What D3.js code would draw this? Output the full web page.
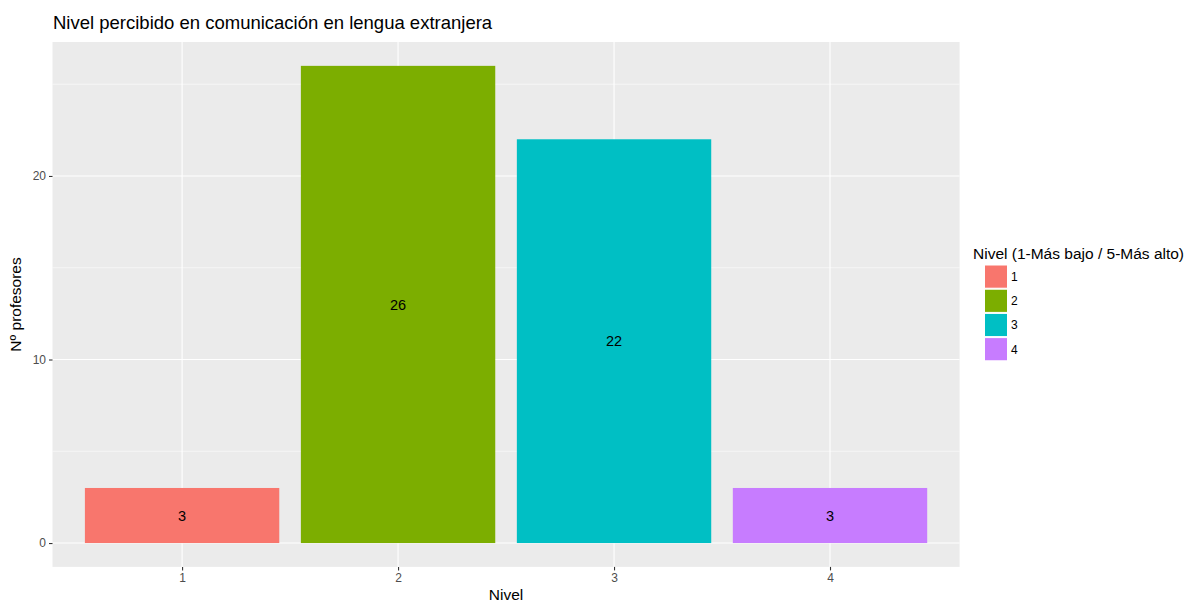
<!DOCTYPE html>
<html><head><meta charset="utf-8">
<script src="https://cdn.jsdelivr.net/npm/d3@7"></script>
<style>body{margin:0;background:#fff;} text{font-family:"Liberation Sans",Arial,sans-serif;}</style>
</head><body>
<svg id="c" width="1191" height="603"></svg>
<script>
const categories = ["1","2","3","4"];
const values = [3, 26, 22, 3];
const colors = ["#F8766D","#7CAE00","#00BFC4","#C77CFF"];
const yTicks = [0, 10, 20];
const yMinor = [5, 15, 25];

(function(){
const svg = d3.select("#c");
const pL = 52.5, pR = 959.6, pT = 42, pB = 566.9;

const x = d3.scaleLinear().domain([0.4, 4.6]).range([pL, pR]);
const y = d3.scaleLinear().domain([-1.3, 27.3]).range([pB, pT]);

svg.append("rect").attr("x", pL).attr("y", pT).attr("width", pR-pL).attr("height", pB-pT).attr("fill", "#EBEBEB");

// minor grid
svg.append("g").selectAll("line").data(yMinor).join("line")
  .attr("x1", pL).attr("x2", pR).attr("y1", d=>y(d)).attr("y2", d=>y(d))
  .attr("stroke", "#fff").attr("stroke-width", 0.55);
// major grid
svg.append("g").selectAll("line").data(yTicks).join("line")
  .attr("x1", pL).attr("x2", pR).attr("y1", d=>y(d)).attr("y2", d=>y(d))
  .attr("stroke", "#fff").attr("stroke-width", 1.1);
svg.append("g").selectAll("line").data(categories).join("line")
  .attr("y1", pT).attr("y2", pB).attr("x1", (d,i)=>x(i+1)).attr("x2", (d,i)=>x(i+1))
  .attr("stroke", "#fff").attr("stroke-width", 1.1);

// bars
const bw = 0.9;
svg.append("g").selectAll("rect").data(values).join("rect")
  .attr("x", (d,i)=>x(i+1-bw/2)).attr("width", (d,i)=>x(i+1+bw/2)-x(i+1-bw/2))
  .attr("y", d=>y(d)).attr("height", d=>y(0)-y(d))
  .attr("fill", (d,i)=>colors[i]);

// labels
svg.append("g").selectAll("text").data(values).join("text")
  .attr("x", (d,i)=>x(i+1)).attr("y", d=>y(d/2)).attr("dy", "0.36em")
  .attr("text-anchor", "middle").attr("font-size", 14.5).attr("fill", "#000")
  .text(d=>d);

// y axis
const yAxis = d3.axisLeft(y).tickValues(yTicks).tickSize(3.5).tickPadding(3);
const gy = svg.append("g").attr("transform", `translate(${pL},0)`).call(yAxis);
gy.select(".domain").remove();
gy.selectAll("line").attr("stroke", "#333").attr("stroke-width", 1.1);
gy.selectAll("text").attr("fill", "#4D4D4D").attr("font-size", 12).style("font-family", '"Liberation Sans",Arial,sans-serif');

// x axis
const xAxis = d3.axisBottom(x).tickValues([1,2,3,4]).tickFormat((d,i)=>categories[i]).tickSize(3.5).tickPadding(3);
const gx = svg.append("g").attr("transform", `translate(0,${pB})`).call(xAxis);
gx.select(".domain").remove();
gx.selectAll("line").attr("stroke", "#333").attr("stroke-width", 1.1);
gx.selectAll("text").attr("fill", "#4D4D4D").attr("font-size", 12).style("font-family", '"Liberation Sans",Arial,sans-serif');

// titles
svg.append("text").attr("x", 53).attr("y", 29).attr("font-size", 18.5).attr("fill", "#000")
  .text("Nivel percibido en comunicación en lengua extranjera");
svg.append("text").attr("x", (pL+pR)/2).attr("y", 600).attr("text-anchor", "middle")
  .attr("font-size", 15.5).attr("fill", "#000").text("Nivel");
svg.append("text").attr("transform", `translate(21,${(pT+pB)/2}) rotate(-90)`).attr("text-anchor", "middle")
  .attr("font-size", 15.5).attr("fill", "#000").text("Nº profesores");

// legend
const lg = svg.append("g");
lg.append("text").attr("x", 973).attr("y", 259).attr("font-size", 15.5).attr("fill", "#000")
  .text("Nivel (1-Más bajo / 5-Más alto)");
categories.forEach((c,i)=>{
  const yy = 265 + i*24.2;
  lg.append("rect").attr("x", 984.5).attr("y", yy).attr("width", 23).attr("height", 23.2)
    .attr("fill", colors[i]).attr("stroke", "#fff").attr("stroke-width", 1);
  lg.append("text").attr("x", 1011).attr("y", yy+11.6).attr("dy", "0.36em").attr("font-size", 12)
    .attr("fill", "#000").text(c);
});
})();
</script>
</body></html>
